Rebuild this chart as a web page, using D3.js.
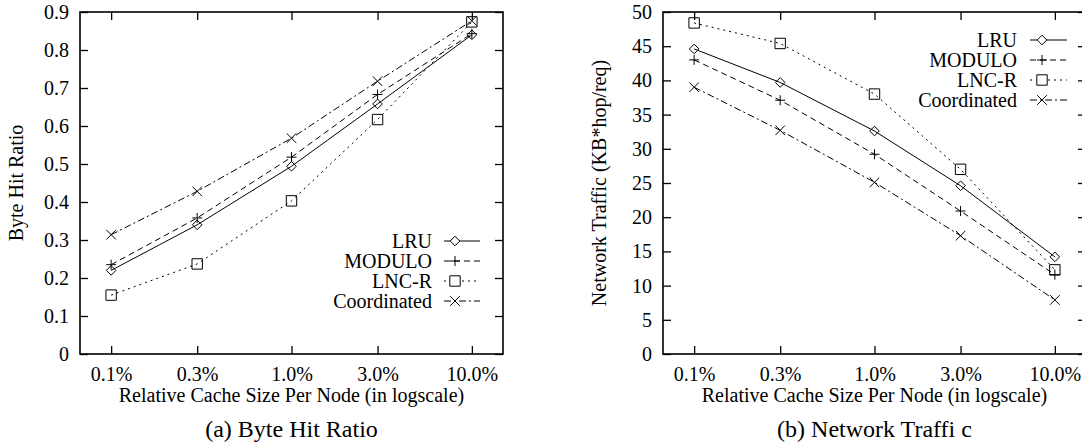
<!DOCTYPE html>
<html>
<head>
<meta charset="utf-8">
<script src="https://cdn.jsdelivr.net/npm/d3@7"></script>
<style>
  body { margin: 0; background: #fff; }
  svg { display: block; font-family: "Liberation Serif", "Times New Roman", serif; }
</style>
</head>
<body>
<svg id="chart" width="1082" height="445"></svg>
<script>
// values
const cacheSizes = [0.1, 0.3, 1.0, 3.0, 10.0];
const cacheLabels = ['0.1%', '0.3%', '1.0%', '3.0%', '10.0%'];
const seriesNames = ['LRU', 'MODULO', 'LNC-R', 'Coordinated'];

const hitLRU = [0.22, 0.34, 0.494, 0.658, 0.840];
const hitModulo = [0.235, 0.358, 0.518, 0.683, 0.843];
const hitLNCR = [0.155, 0.237, 0.403, 0.617, 0.874];
const hitCoord = [0.314, 0.428, 0.568, 0.718, 0.877];
const hitTicks = [0, 0.1, 0.2, 0.3, 0.4, 0.5, 0.6, 0.7, 0.8, 0.9];

const trafficLRU = [44.6, 39.7, 32.6, 24.6, 14.2];
const trafficModulo = [43.0, 37.1, 29.2, 20.9, 11.6];
const trafficLNCR = [48.4, 45.4, 38.0, 27.0, 12.3];
const trafficCoord = [39.0, 32.7, 25.1, 17.3, 7.9];
const trafficTicks = [0, 5, 10, 15, 20, 25, 30, 35, 40, 45, 50];

const seriesStyles = [
  {marker: 'diamond', dash: null},
  {marker: 'plus', dash: '6,4'},
  {marker: 'square', dash: '2,4'},
  {marker: 'cross', dash: '7,3,2,3'}
];

const ink = '#000';
const fontSize = 20;
const tickLen = 8;

const panels = [
  {
    left: 80, right: 503, top: 12, bottom: 354,
    yMax: 0.9, yTicks: hitTicks, yFormat: d => d === 0 ? '0' : d3.format('.1f')(d),
    series: [hitLRU, hitModulo, hitLNCR, hitCoord],
    yTitle: 'Byte Hit Ratio', yTitleX: 23,
    caption: '(a) Byte Hit Ratio',
    legend: {textRight: 432, lineStart: 444, lineEnd: 480, markerX: 455, firstRow: 241}
  },
  {
    left: 663, right: 1086, top: 12, bottom: 354,
    yMax: 50, yTicks: trafficTicks, yFormat: d => String(d),
    series: [trafficLRU, trafficModulo, trafficLNCR, trafficCoord],
    yTitle: 'Network Traffic (KB*hop/req)', yTitleX: 606,
    caption: '(b) Network Traffi c',
    legend: {textRight: 1017, lineStart: 1030, lineEnd: 1067, markerX: 1042, firstRow: 40}
  }
];

const svg = d3.select('#chart');
svg.append('rect').attr('width', 1082).attr('height', 445).attr('fill', '#fff');

function markerPath(type, cx, cy) {
  const p = d3.path();
  if (type === 'diamond') {
    const r = 4.8;
    p.moveTo(cx, cy - r); p.lineTo(cx + r, cy); p.lineTo(cx, cy + r); p.lineTo(cx - r, cy); p.closePath();
  } else if (type === 'plus') {
    const r = 5;
    p.moveTo(cx - r, cy); p.lineTo(cx + r, cy); p.moveTo(cx, cy - r); p.lineTo(cx, cy + r);
  } else if (type === 'square') {
    const r = 5.2;
    p.rect(cx - r, cy - r, 2 * r, 2 * r);
  } else {
    const r = 4.8;
    p.moveTo(cx - r, cy - r); p.lineTo(cx + r, cy + r); p.moveTo(cx - r, cy + r); p.lineTo(cx + r, cy - r);
  }
  return p.toString();
}

function drawGraph(panel) {
  const g = svg.append('g');

  const xScale = d3.scaleLog()
    .domain([0.0672, 14.88])
    .range([panel.left, panel.right]);

  const yScale = d3.scaleLinear()
    .domain([0, panel.yMax])
    .range([panel.bottom, panel.top]);

  const bottomAxis = d3.axisBottom(xScale)
    .tickValues(cacheSizes)
    .tickFormat((d, i) => cacheLabels[i])
    .tickSizeInner(-tickLen).tickSizeOuter(0).tickPadding(13);

  const topAxis = d3.axisTop(xScale)
    .tickValues(cacheSizes).tickFormat('')
    .tickSizeInner(-tickLen).tickSizeOuter(0);

  const leftAxis = d3.axisLeft(yScale)
    .tickValues(panel.yTicks).tickFormat(panel.yFormat)
    .tickSizeInner(-tickLen).tickSizeOuter(0).tickPadding(11);

  const rightAxis = d3.axisRight(yScale)
    .tickValues(panel.yTicks).tickFormat('')
    .tickSizeInner(-tickLen).tickSizeOuter(0);

  const axes = [
    [bottomAxis, `translate(0, ${panel.bottom})`],
    [topAxis, `translate(0, ${panel.top})`],
    [leftAxis, `translate(${panel.left}, 0)`],
    [rightAxis, `translate(${panel.right}, 0)`]
  ];
  axes.forEach(([axis, transform]) => {
    const a = g.append('g')
      .attr('transform', transform)
      .call(axis);
    a.select('.domain').remove();
    a.selectAll('line').attr('stroke', ink).attr('stroke-width', 1.3);
    a.selectAll('text')
      .attr('fill', ink)
      .style('font-size', fontSize + 'px')
      .style('font-family', '"Liberation Serif", serif');
  });

  g.append('rect')
    .attr('x', panel.left)
    .attr('y', panel.top)
    .attr('width', panel.right - panel.left)
    .attr('height', panel.bottom - panel.top)
    .attr('fill', 'none')
    .attr('stroke', ink)
    .attr('stroke-width', 1.6);

  const line = d3.line()
    .x((d, i) => xScale(cacheSizes[i]))
    .y(d => yScale(d));

  panel.series.forEach((values, s) => {
    const style = seriesStyles[s];
    g.append('path')
      .datum(values)
      .attr('d', line)
      .attr('fill', 'none')
      .attr('stroke', ink)
      .attr('stroke-width', 1)
      .attr('stroke-dasharray', style.dash);

    g.selectAll(null)
      .data(values)
      .join('path')
      .attr('d', (d, i) => markerPath(style.marker, xScale(cacheSizes[i]), yScale(d)))
      .attr('fill', 'none')
      .attr('stroke', ink)
      .attr('stroke-width', 1);
  });

  // legend
  const lg = panel.legend;
  seriesNames.forEach((name, s) => {
    const rowY = lg.firstRow + s * 20;
    const style = seriesStyles[s];
    g.append('text')
      .attr('x', lg.textRight)
      .attr('y', rowY)
      .attr('dy', '0.33em')
      .attr('text-anchor', 'end')
      .style('font-size', fontSize + 'px')
      .attr('fill', ink)
      .text(name);
    g.append('line')
      .attr('x1', lg.lineStart).attr('x2', lg.lineEnd)
      .attr('y1', rowY).attr('y2', rowY)
      .attr('stroke', ink)
      .attr('stroke-width', 1)
      .attr('stroke-dasharray', style.dash);
    g.append('path')
      .attr('d', markerPath(style.marker, lg.markerX, rowY))
      .attr('fill', s === 0 || s === 2 ? '#fff' : 'none')
      .attr('stroke', ink)
      .attr('stroke-width', 1);
  });

  const midX = (panel.left + panel.right) / 2;
  const midY = (panel.top + panel.bottom) / 2;

  g.append('text')
    .attr('x', midX)
    .attr('y', 402)
    .attr('text-anchor', 'middle')
    .style('font-size', fontSize + 'px')
    .attr('fill', ink)
    .text('Relative Cache Size Per Node (in logscale)');

  g.append('text')
    .attr('text-anchor', 'middle')
    .attr('transform', `translate(${panel.yTitleX}, ${midY}) rotate(-90)`)
    .style('font-size', fontSize + 'px')
    .attr('fill', ink)
    .text(panel.yTitle);

  g.append('text')
    .attr('x', midX)
    .attr('y', 437)
    .attr('text-anchor', 'middle')
    .style('font-size', '24px')
    .attr('fill', ink)
    .text(panel.caption);
}

panels.forEach(drawGraph);
</script>
</body>
</html>
